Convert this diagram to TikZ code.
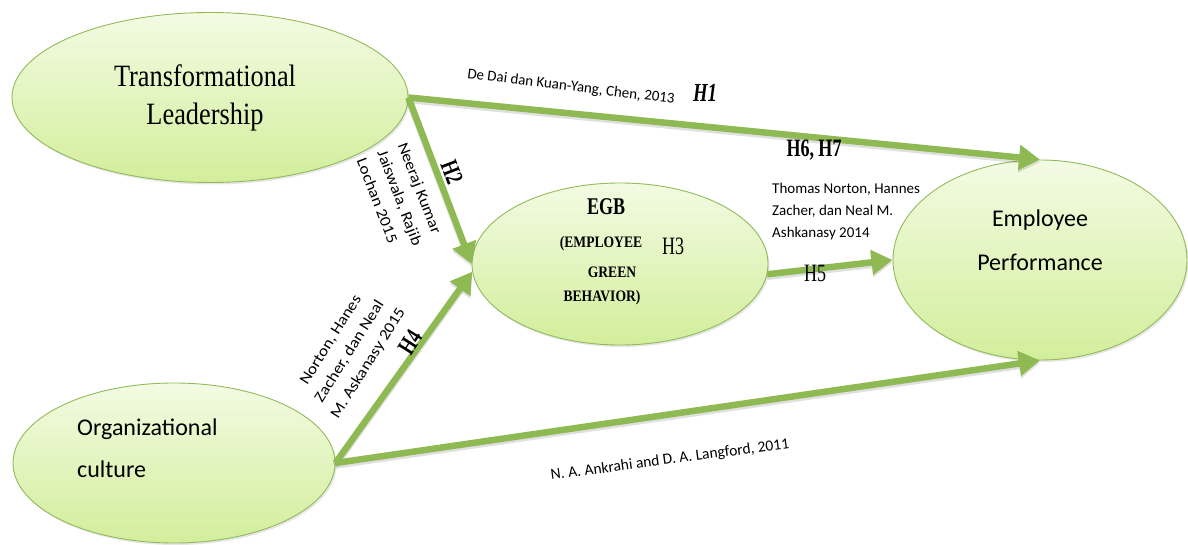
\documentclass[tikz,border=0pt]{standalone}
\usepackage{fontspec}
\setmainfont{Liberation Serif}
\newfontfamily\calfont{Carlito}
\newfontfamily\calsp[FakeStretch=1.12]{Carlito}
\newfontfamily\tmsc[FakeStretch=0.85]{Liberation Serif}
\newfontfamily\hfont[FakeStretch=0.72]{Liberation Serif}
\newfontfamily\egbfont[FakeStretch=0.75]{Liberation Serif}
\usetikzlibrary{arrows.meta,shadows,shapes.geometric}
\definecolor{egtop}{HTML}{F3FBE3}
\definecolor{egbot}{HTML}{D2EE9B}
\definecolor{egborder}{HTML}{93BA5A}
\definecolor{arrowgreen}{HTML}{8FB953}
\tikzset{
  bubble/.style={ellipse, draw=egborder, line width=0.9pt, top color=egtop, bottom color=egbot,
    drop shadow={shadow xshift=1.5pt, shadow yshift=-2pt, opacity=0.2}, inner sep=0pt},
  link/.style={draw=arrowgreen, line width=6.5pt, -{Triangle[length=21pt,width=24pt]},
    preaction={draw=black, draw opacity=0.12, line width=6.5pt, transform canvas={yshift=-2.5pt}}},
  reftext/.style={font=\calfont\fontsize{15}{19}\selectfont, inner sep=0pt},
  rottext/.style={font=\calsp\fontsize{15.5}{22}\selectfont, inner sep=0pt},
  hyp/.style={font=\hfont\bfseries\fontsize{25}{26}\selectfont, inner sep=0pt},
  hypreg/.style={font=\hfont\fontsize{25}{26}\selectfont, inner sep=0pt},
  bigsans/.style={font=\calfont\fontsize{24}{26}\selectfont, inner sep=0pt, anchor=base},
  egbtext/.style={font=\tmsc\bfseries\fontsize{16}{18}\selectfont, inner sep=0pt},
}
\begin{document}
\begin{tikzpicture}[x=1pt,y=-1pt]
\useasboundingbox (0,0) rectangle (1188,545);
% ellipses
\node[bubble, minimum width=396pt, minimum height=170pt] (TL) at (210,97.5) {};
\node[bubble, minimum width=296pt, minimum height=162pt] (EGB) at (620,264) {};
\node[bubble, minimum width=294pt, minimum height=200pt] (EP) at (1040,260) {};
\node[bubble, minimum width=322pt, minimum height=160pt] (OC) at (174,463) {};
% texts inside ellipses
\node[font=\tmsc\fontsize{31}{34}\selectfont, inner sep=0pt, anchor=base] (tl1) at (205,87) {Transformational};
\node[font=\tmsc\fontsize{31}{34}\selectfont, inner sep=0pt, anchor=base] (tl2) at (205,125) {Leadership};
\node[bigsans] (ep1) at (1040,227) {Employee};
\node[bigsans] (ep2) at (1040,270) {Performance};
\node[bigsans, anchor=base west] (oc1) at (77,435) {Organizational};
\node[bigsans, anchor=base west] (oc2) at (77,477) {culture};
\node[font=\egbfont\bfseries\fontsize{24}{26}\selectfont, inner sep=0pt] (egb1) at (606,207) {EGB};
\node[egbtext] (egb2) at (601,244) {(EMPLOYEE};
\node[egbtext] (egb3) at (612,272) {GREEN};
\node[egbtext] (egb4) at (602,298) {BEHAVIOR)};
% connectors
\draw[link] (TL.east) -- (EP.north);
\draw[link] (TL.east) -- (EGB.west);
\draw[link] (OC.east) -- (EGB.183);
\draw[link] (EGB.-4) -- (EP.west);
\draw[link] (OC.east) -- (EP.south);
% labels
\node[reftext, rotate=-7] (l1) at (571,87) {De Dai dan Kuan-Yang, Chen, 2013};
\node[hyp, font=\hfont\bfseries\itshape\fontsize{26}{26}\selectfont] (h1) at (705,93) {H1};
\node[hyp] (h67) at (814,150) {H6, H7};
\node[rottext, rotate=-69, align=left] (l2) at (400,198) {Neeraj Kumar\\Jaiswala, Rajib\\Lochan 2015};
\node[hyp, rotate=-69] (h2) at (452,172) {H2};
\node[rottext, rotate=58, align=center] (l4) at (350,352) {Norton, Hanes\\Zacher, dan Neal\\M. Askanasy 2015};
\node[hyp, rotate=58] (h4) at (410,342) {H4};
\node[hypreg] (h3) at (673,246) {H3};
\node[hypreg] (h5) at (815,273) {H5};
\node[reftext, align=left, anchor=north west, font=\calfont\fontsize{15}{22}\selectfont] (l5) at (772,183) {Thomas Norton, Hannes\\Zacher, dan Neal M.\\Ashkanasy 2014};
\node[reftext, font=\calfont\fontsize{15.5}{19}\selectfont, rotate=7.5] (l6) at (670,460) {N. A. Ankrahi and D. A. Langford, 2011};
\end{tikzpicture}
\end{document}
